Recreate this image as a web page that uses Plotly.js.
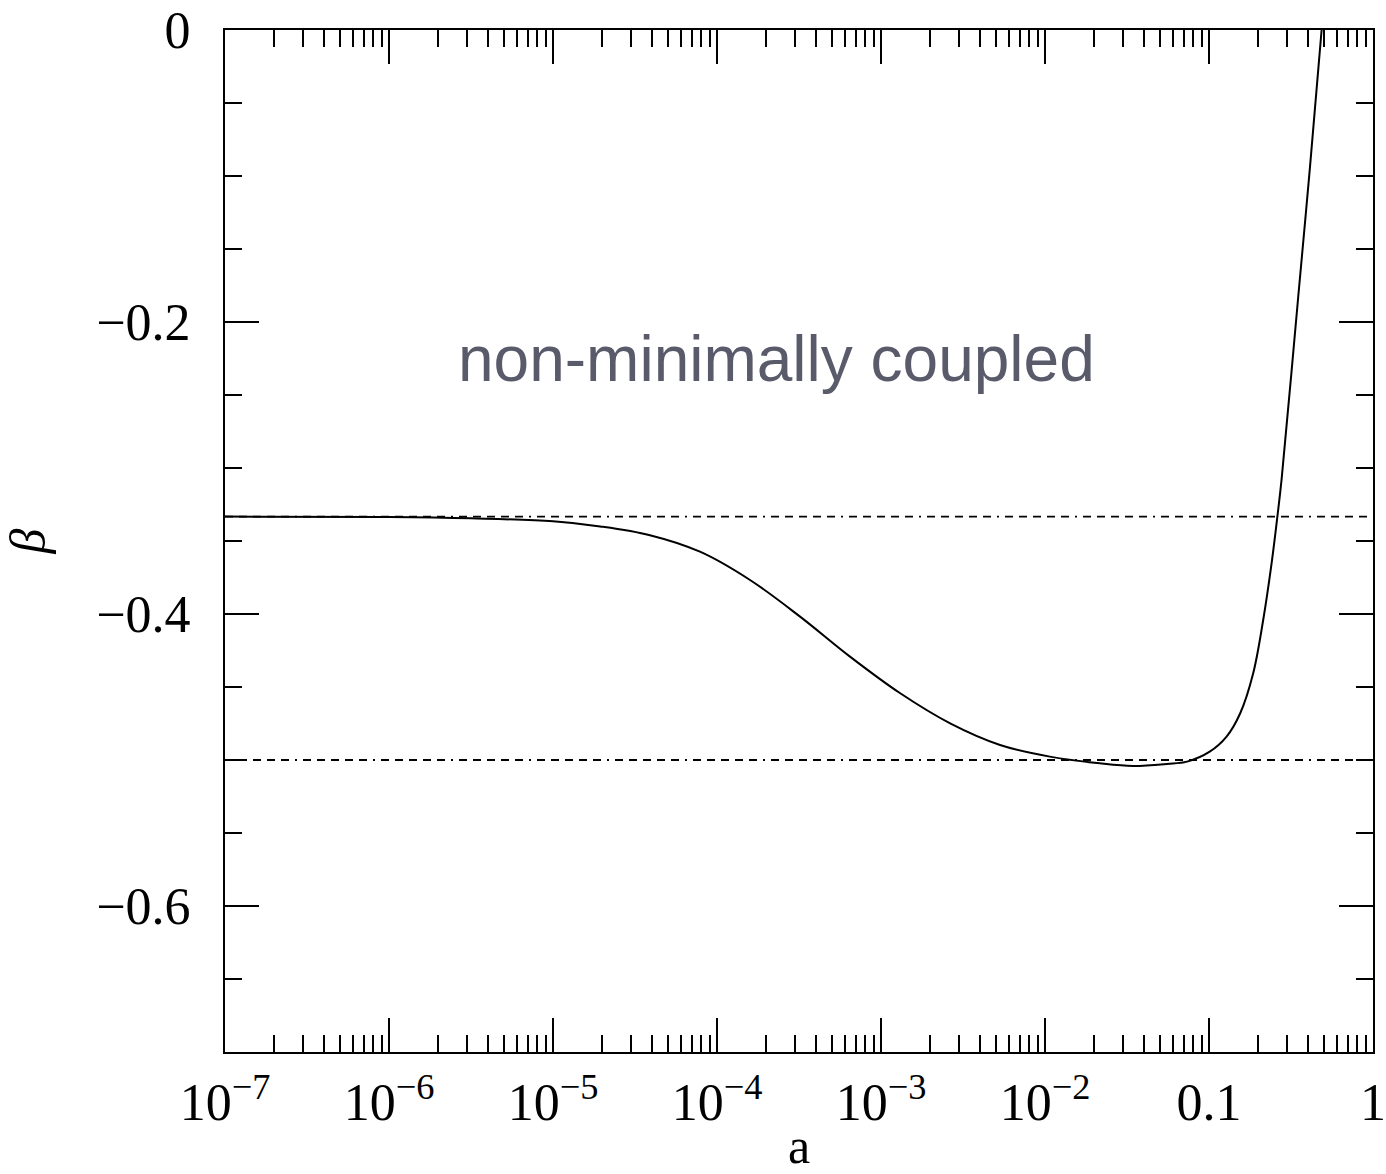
<!DOCTYPE html>
<html>
<head>
<meta charset="utf-8">
<script src="https://cdn.plot.ly/plotly-3.0.1.min.js"></script>
<style>
  html, body { margin: 0; padding: 0; background: #ffffff; }
  #chart { width: 1386px; height: 1174px; }
</style>
</head>
<body>
<div id="chart"></div>
<script>
// ---- data ----
const aValues = [1e-7, 1e-6, 3.16e-6, 1e-5, 1.94e-5, 3.90e-5, 7.87e-5, 1.59e-4, 3.21e-4, 6.47e-4,
                 1.31e-3, 2.64e-3, 5.32e-3, 0.0107, 0.0216, 0.0344, 0.0555, 0.0735, 0.101, 0.128,
                 0.155, 0.186, 0.214, 0.241, 0.262, 0.277, 0.350, 0.413, 0.486];
const betaValues = [-0.3333, -0.3336, -0.3345, -0.3365, -0.3400, -0.3460, -0.3573, -0.3767, -0.4018, -0.4292,
                    -0.4543, -0.4749, -0.4897, -0.4977, -0.5023, -0.5041, -0.5027, -0.5011, -0.4943, -0.4840,
                    -0.4680, -0.4406, -0.4041, -0.3650, -0.3320, -0.3080, -0.1827, -0.0936, 0.0];
const refLineX = [1e-7, 1];
const refUpper = [-0.3333, -0.3333];
const refLower = [-0.5, -0.5];

const xTickVals = [1e-7, 1e-6, 1e-5, 1e-4, 1e-3, 1e-2, 0.1, 1];
const xTickText = ["10<sup>\u22127</sup>", "10<sup>\u22126</sup>", "10<sup>\u22125</sup>", "10<sup>\u22124</sup>",
                   "10<sup>\u22123</sup>", "10<sup>\u22122</sup>", "0.1", "1"];
const yTickVals = [0, -0.2, -0.4, -0.6];
const yTickText = ["0", "\u22120.2", "\u22120.4", "\u22120.6"];
const labelText = "non-minimally coupled";

// minor log ticks (2..9 of each decade)
const xMinor = [];
for (let e = -7; e < 0; e++) {
  for (let m = 2; m <= 9; m++) xMinor.push(m * Math.pow(10, e));
}

const serif = "Liberation Serif, DejaVu Serif, serif";
const dashPat = "8px,6px,8px,6px,8px,6px,8px,6px,8px,6px,2px,6px";

const traces = [
  { x: refLineX, y: refUpper, mode: "lines", line: {color: "#000", width: 1.8, dash: dashPat}, hoverinfo: "skip" },
  { x: refLineX, y: refLower, mode: "lines", line: {color: "#000", width: 1.8, dash: dashPat}, hoverinfo: "skip" },
  { x: aValues, y: betaValues, mode: "lines", line: {color: "#000", width: 2, shape: "spline", smoothing: 1} }
];

const layout = {
  width: 1386, height: 1174,
  paper_bgcolor: "#fff", plot_bgcolor: "#fff",
  showlegend: false,
  margin: {l: 225, r: 13, t: 30, b: 122, pad: 0},
  xaxis: {
    type: "log", range: [-7, 0],
    tickmode: "array", tickvals: xTickVals, ticktext: xTickText,
    ticks: "inside", ticklen: 34, tickwidth: 2, tickcolor: "#000",
    minor: {tickmode: "array", tickvals: xMinor, ticks: "inside", ticklen: 17, tickwidth: 2, tickcolor: "#000", showgrid: false},
    showline: true, linecolor: "#000", linewidth: 2, mirror: "allticks",
    showgrid: false, zeroline: false,
    tickfont: {family: serif, size: 52, color: "#000"},
    title: {text: "a", font: {family: serif, size: 50, color: "#000"}, standoff: 6},
    ticklabelstandoff: 4
  },
  yaxis: {
    range: [-0.7, 0],
    tickmode: "array", tickvals: yTickVals, ticktext: yTickText,
    ticks: "inside", ticklen: 34, tickwidth: 2, tickcolor: "#000",
    minor: {dtick: 0.05, ticks: "inside", ticklen: 17, tickwidth: 2, tickcolor: "#000", showgrid: false},
    showline: true, linecolor: "#000", linewidth: 2, mirror: "allticks",
    showgrid: false, zeroline: false,
    tickfont: {family: serif, size: 52, color: "#000"},
    title: {text: "<i>\u03b2</i>", font: {family: serif, size: 50, color: "#000"}, standoff: 115},
    ticklabelstandoff: 22
  },
  annotations: [{
    text: labelText, xref: "paper", yref: "paper", x: 0.480, y: 0.678,
    xanchor: "center", yanchor: "middle", showarrow: false,
    font: {family: "Liberation Sans, Arial, sans-serif", size: 64, color: "#595b6b"}
  }]
};

Plotly.newPlot("chart", traces, layout, {staticPlot: true, displayModeBar: false});
</script>
</body>
</html>
